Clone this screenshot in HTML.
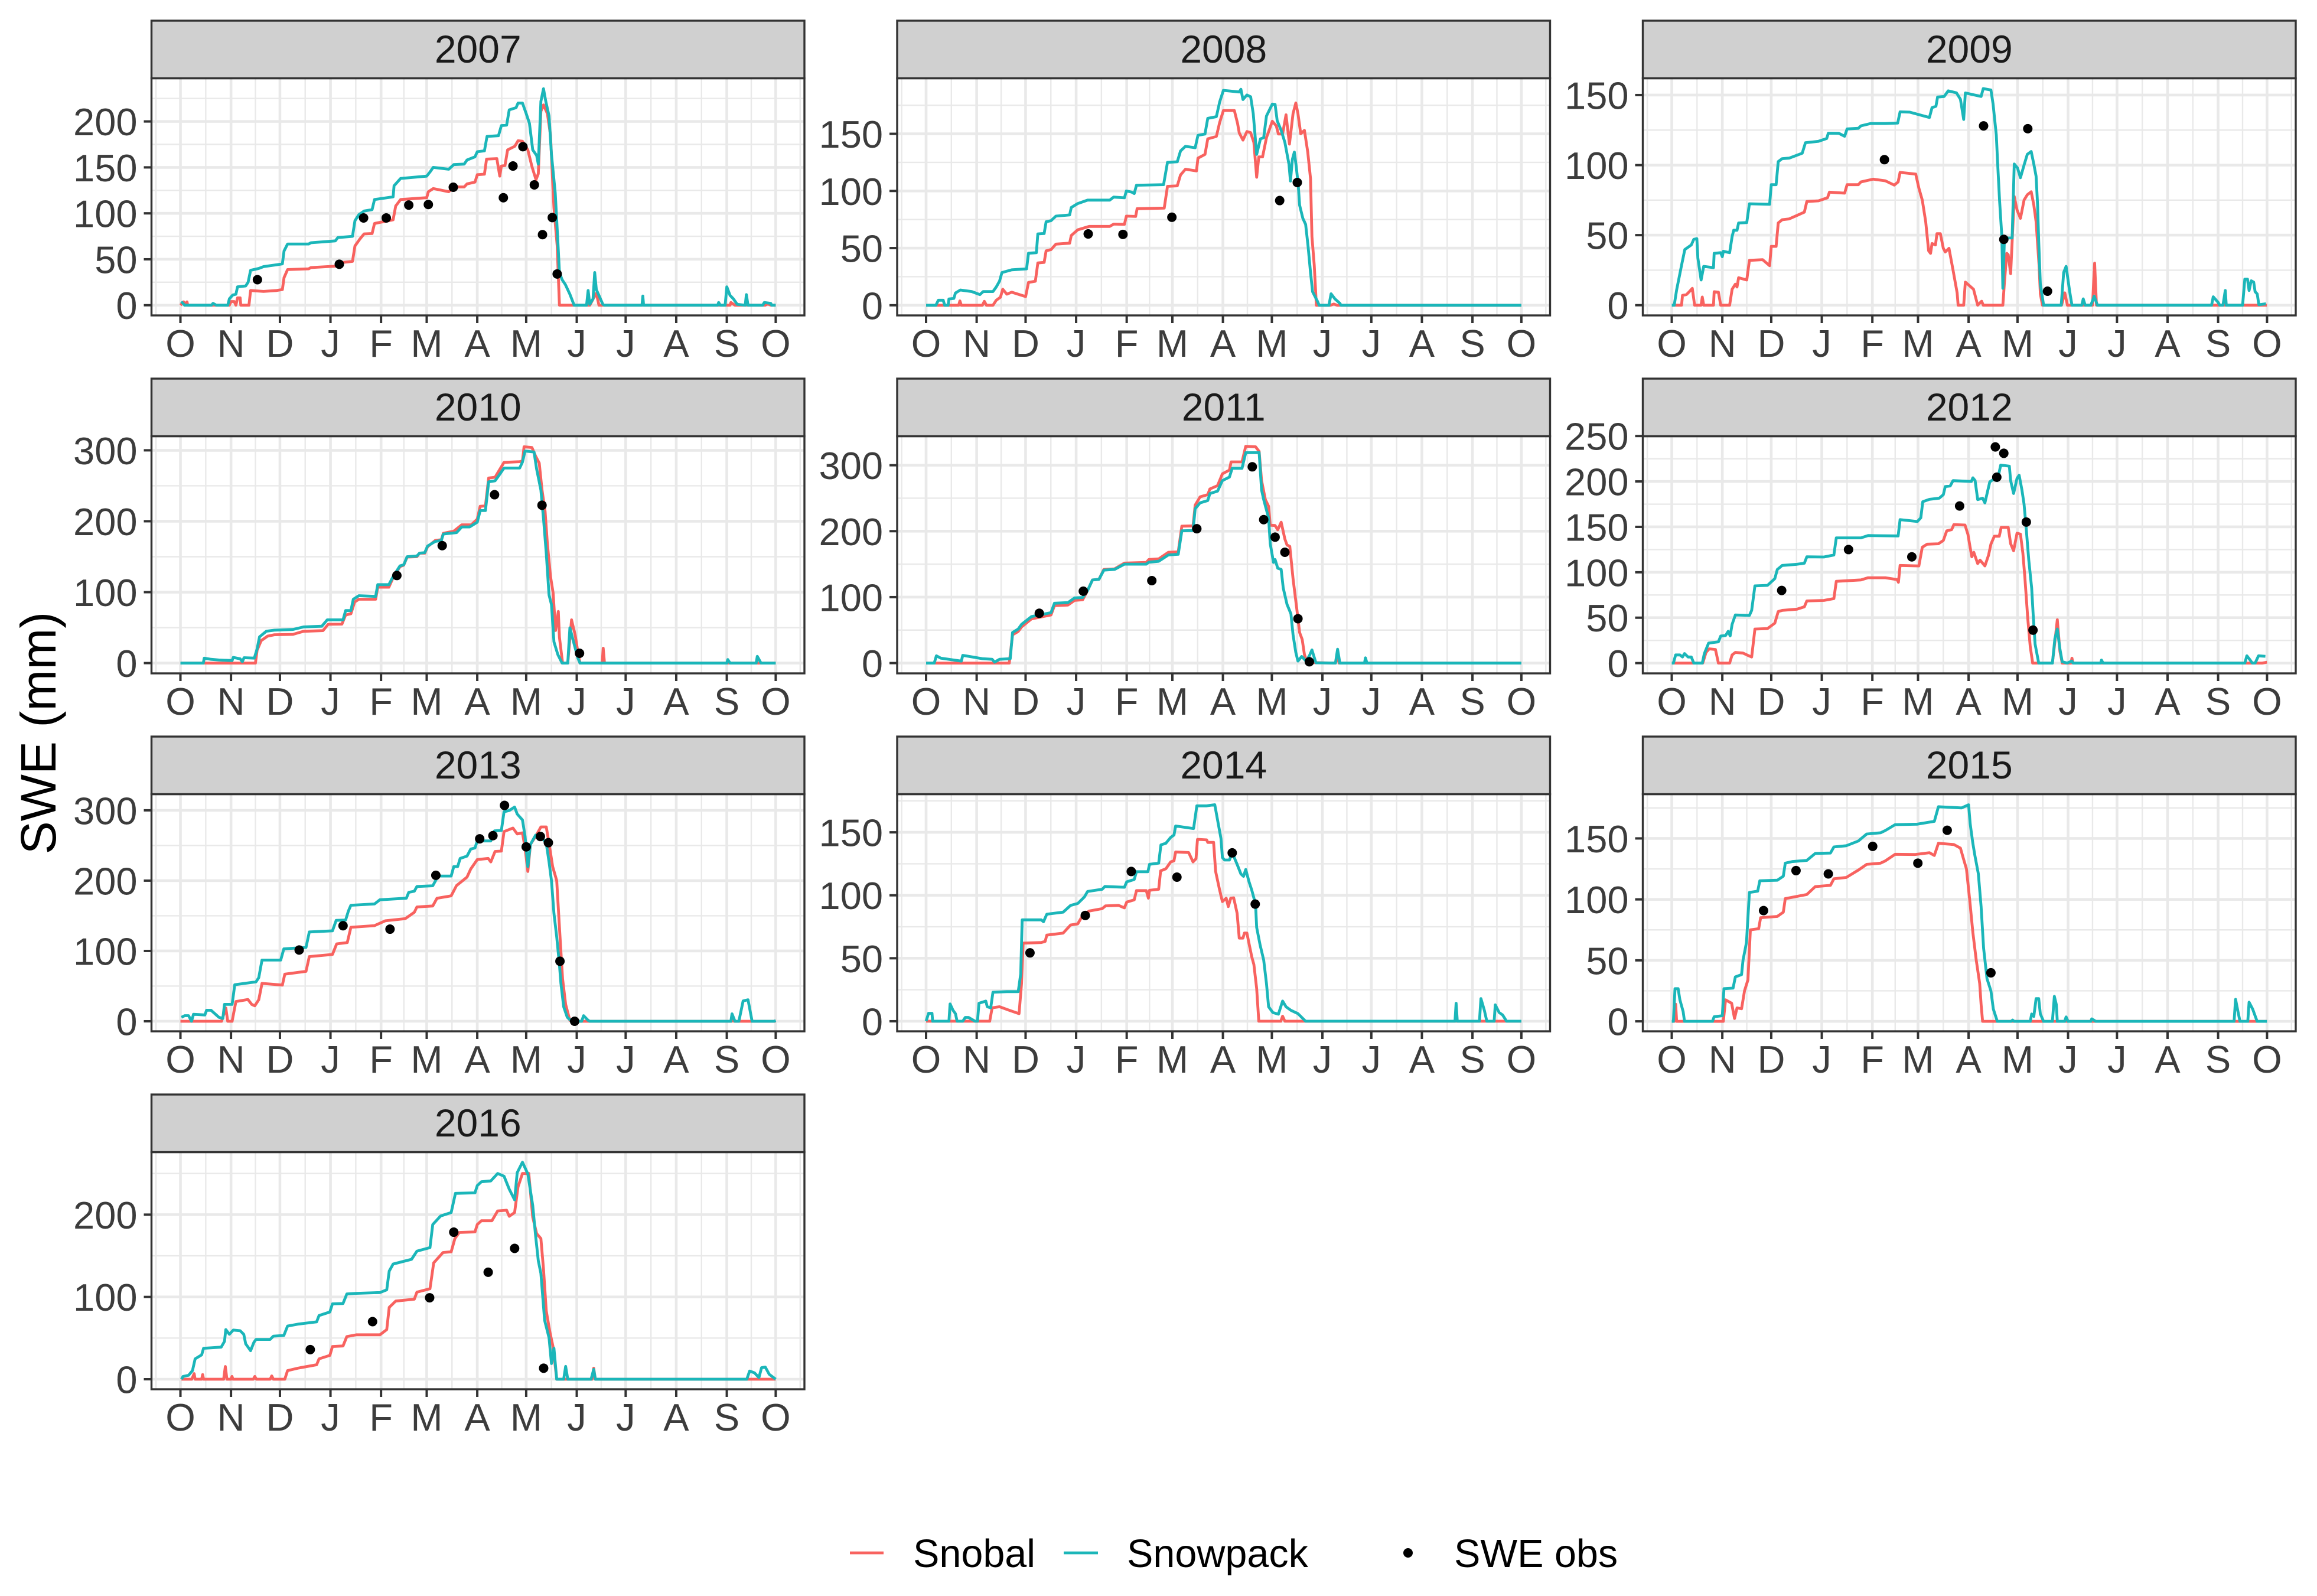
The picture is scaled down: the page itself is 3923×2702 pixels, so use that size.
<!DOCTYPE html>
<html lang="en">
<head>
<meta charset="utf-8">
<title>SWE by water year</title>
<style>
html,body{margin:0;padding:0;background:#fff;}
svg{display:block;font-family:"Liberation Sans",Arial,sans-serif;}
</style>
</head>
<body>
<svg id="chart" xmlns="http://www.w3.org/2000/svg" width="3923" height="2702" viewBox="0 0 3923 2702">
<rect x="0" y="0" width="3923" height="2702" fill="#ffffff"/>
<text transform="translate(94,1241) rotate(-90)" text-anchor="middle" font-size="84" fill="#000">SWE (mm)</text>
<g>
<line x1="1439" x2="1496" y1="2629" y2="2629" stroke="#f8625f" stroke-width="4.8"/>
<text x="1546" y="2653" font-size="66.5" fill="#000">Snobal</text>
<line x1="1801" x2="1859" y1="2629" y2="2629" stroke="#1bb6b9" stroke-width="4.8"/>
<text x="1908" y="2653" font-size="66.5" fill="#000">Snowpack</text>
<circle cx="2384" cy="2629" r="8" fill="#000"/>
<text x="2462" y="2653" font-size="66.5" fill="#000">SWE obs</text>
</g>
</svg>
<script>
// Months on the x axis: labels and day of water year
const monthLabels = ["O","N","D","J","F","M","A","M","J","J","A","S","O"];
const monthDays = [0,31,61,92,123,151,182,212,243,273,304,335,365];
const xRange = [-17.75,382.6];
const years = [2007,2008,2009,2010,2011,2012,2013,2014,2015,2016];

// y axis ranges and tick labels per year
const yRange2007=[-11.1,247], yRange2008=[-8.9,198.6], yRange2009=[-7.3,162], yRange2010=[-14.5,319.9], yRange2011=[-15.6,344];
const yRange2012=[-11.3,249.8], yRange2013=[-14.3,323], yRange2014=[-8,180.3], yRange2015=[-8.2,186.3], yRange2016=[-12.2,276];
const yTicks2007=[0,50,100,150,200], yTicks2008=[0,50,100,150], yTicks2009=[0,50,100,150], yTicks2010=[0,100,200,300], yTicks2011=[0,100,200,300];
const yTicks2012=[0,50,100,150,200,250], yTicks2013=[0,100,200,300], yTicks2014=[0,50,100,150], yTicks2015=[0,50,100,150], yTicks2016=[0,100,200];

// Series: [day of water year, SWE mm]
const snobal2007=[[0,0],[2,3.7],[2.6,0],[4,3.7],[4.5,0],[20,0],[20.4,1.5],[21,0],[30,0],[31,4],[33,4],[34,0],[35,8],[36.6,8],[37,0],[42,0],[43,16],[51,15],[59,16],[62.5,17],[63.5,30],[65.7,38.8],[78.6,39.6],[80,41],[95,42.5],[96.5,46],[105.5,47.7],[107,64.5],[110,72],[112.6,77.6],[117.5,78],[119,89],[130.4,93],[132,108],[135,115],[151,117],[152,123.5],[155,127],[164.5,123.5],[167.6,128.7],[174,128.7],[175.7,132],[180.6,134],[182,142],[186.4,142.6],[187.7,159],[194,159.6],[195.8,140.5],[196.8,151.5],[199,152],[200.6,169],[205,173],[207,179],[209.7,178.5],[213,169],[215.5,151],[218,136.6],[219.4,143],[221,211],[222.6,218],[225,208.6],[226.9,185],[228,143],[229,106],[231,64.5],[232.4,0],[251,0],[253.4,8],[255,13],[256.6,0],[337,0],[337.5,3],[340,0],[358.6,0],[360,1.5],[362,0],[365,0]];
const snowpack2007=[[0.5,4],[2.6,0],[19,0],[20,2],[22,0],[29,0],[30,7],[32,11],[34,12],[35,20],[40,21],[41.5,25],[43,38],[48,40],[51,42],[59,44],[62.5,45],[63.5,59],[65.7,66.6],[78.6,66.6],[80,68],[95,70],[96.5,73.6],[105.5,75],[107,92],[109.4,98.5],[112.6,102.5],[117.5,104],[119,115],[130.4,118],[131,130],[135,138],[151,140.5],[153,145],[155,150],[164.5,148],[167.6,153],[174,153.6],[175.7,158],[180.6,161.5],[182,167],[186.4,168],[188,183.7],[195,184.5],[196.8,195.5],[200,196],[201.6,212.6],[205.8,215],[207,220],[209.7,220],[212,208.6],[214,198],[216,169],[218.4,163],[219.4,153.6],[221,221.8],[222.6,235.6],[224,221.8],[226,206],[227.5,164],[229.8,122],[231.4,69.7],[232.4,35.6],[234,27.8],[236,22.5],[238.8,12],[241.4,0],[249,0],[250,16],[251,1],[253,7],[254,35.6],[255,17],[256.6,10.7],[259,1],[260,0],[283,0],[283.5,10],[284,0],[329.4,0],[330,3],[331,0],[334,0],[335,20],[337,10.7],[339,7],[341.4,1],[346.3,0],[347,11.5],[348,0],[357,0],[358,3],[362,2],[362.5,0],[365,0]];
const obs2007=[[47.2,27.8],[97.4,44.6],[112.3,95],[126.2,95],[140,109],[152,109.6],[167.3,128.4],[198,117],[203.9,151.5],[210,172.5],[217,131],[222,76.8],[228,95.4],[231,34]];

const snobal2008=[[0,0],[20,0],[20.7,3.8],[21.6,0],[34.5,0],[35.7,3.4],[37,0],[41,0],[43,4.4],[45.6,7],[47,14],[49.5,9.7],[52.5,11.4],[61,7.6],[62.8,20],[67,21],[68.5,37],[72.4,37.5],[73.6,47.6],[76.6,48.7],[79.6,53.5],[88,54.3],[89,61],[93,66],[100,69],[112.6,69],[115,71],[121.6,70.8],[122.8,78],[128.5,77.7],[129.4,84.5],[146,85],[148,104],[154,104.5],[156,114],[159,119],[165.8,117.5],[166.7,128.7],[171,132],[172.7,145.6],[178,147.7],[180,160],[182.3,170.4],[189,170.4],[191,159],[192,150.8],[194.3,144.5],[196.7,152],[199,151],[201,142.4],[202.7,112],[204,129.8],[206.3,129.8],[208.7,146.6],[212.3,161],[214.7,157],[216,149.8],[218.6,149.8],[220.7,166.6],[222.8,141],[225,167.7],[226.7,177],[228,167.7],[229.7,150],[232,153],[234,134],[235.7,110.8],[236.6,60],[238,35],[239.3,0],[248,0],[250,1],[252,0],[365,0]];
const snowpack2008=[[0,0],[6,0],[7.5,4.4],[10.5,4.4],[11.4,0],[13.5,0],[14,5.5],[17,6],[18,10.7],[21,13.3],[28,12],[33,9.3],[35,12],[41,12],[43,16],[45,21],[46.5,28.6],[52.5,31],[61.6,31.8],[62.8,45.5],[67.6,46],[68.5,62.4],[72.4,62.8],[73.6,73],[76.6,74],[79.6,78],[88,79],[89,85.5],[93,89],[99,92],[112.6,92],[115,94.6],[121.6,94],[122.8,100],[126,99],[127.6,97.7],[129,105],[145.6,105.5],[148,125],[154,125.5],[156,135],[159,139],[165,137.8],[166.7,148.7],[171,149.8],[172.7,163.5],[178,165],[180,178],[182.3,188],[192,186.6],[193,189],[194.3,180],[196.7,184],[199,182.4],[200.6,167.7],[202.7,132],[205,145.6],[207,146.6],[208.7,165.6],[212.3,176],[214,175.7],[215.3,161.4],[217.7,153],[220,142.4],[222.5,123.4],[223.4,108.7],[224.6,127.7],[225.8,134],[227,121],[228.2,104.5],[229,87.6],[231,76],[232.7,70.8],[234.2,51.8],[235.7,28.6],[237,11.8],[240,3.4],[241,0],[247,0],[248.3,10],[250.7,5.5],[253.7,1.7],[254.4,0],[365,0]];
const obs2008=[[99.4,62.4],[120.7,62],[150.7,77],[216.8,91.6],[227.6,107.4]];

const snobal2009=[[0,0],[6,0],[6.6,7],[9,7.6],[10.5,9.3],[12.6,12],[14,0],[18,0],[18.7,5.8],[19.6,0],[25.6,0],[26,9.6],[28.6,9.3],[30,0],[35.5,0],[37,11.4],[39,15],[40,13],[41,19.6],[46,18],[47.6,32],[55.7,32.5],[60,28.2],[61,42],[64,42],[65.3,58.7],[67.7,61],[72,61.6],[81.3,66.4],[82.8,74],[90,74.5],[95.5,76.7],[96.7,80.7],[106,80],[107.5,86],[114.4,86],[116,88],[123.5,90],[131,88.8],[136.4,85.7],[138.8,88],[140,94.8],[149.6,93.6],[151.5,83.6],[153.6,75],[155.7,59.5],[157.5,38.9],[158.7,37],[159.6,44],[161.7,43],[162.6,51],[164.7,51],[166.5,40.6],[167.7,38],[170,40.6],[172.5,25],[175,8.8],[175.6,0],[179,0],[180,16.5],[185,11.4],[187.6,0],[190,2.8],[191,0],[203,0],[204,16.5],[205.4,37],[206.3,36],[207.8,22.5],[210,77.6],[211.7,68],[213.8,62],[216,75],[218,78.8],[220.4,81],[222,71.6],[223.4,59.5],[225.2,28.6],[226,8],[227.3,0],[239,0],[241,8.8],[242.6,0],[258,0],[259.3,30],[260.4,0],[365,0]];
const snowpack2009=[[0,0],[1.5,0],[3,11],[4.5,19.6],[6,28.5],[8,39.7],[12,43],[13.5,47],[15.4,47.5],[16,33.7],[18,18],[19.6,27.7],[25.6,26.8],[26,37],[30,37.5],[31,34.6],[31.6,38.5],[35.5,37.5],[37,49],[38,53.5],[40,53.5],[41,58.7],[46,59],[47.6,72.4],[60,72],[61,86],[64,86],[65.3,102.5],[67.7,104.6],[72,105],[80,108.5],[82,116],[90,117],[95,119],[96,122.8],[102.4,122.7],[106,120.6],[107.5,125.8],[114.4,126.3],[116,128],[122,129.7],[131,129.7],[138.5,130],[140,138],[146,137.8],[158,134],[159.6,141],[162,142],[163,148.6],[167,149],[169.5,153],[174.6,151.6],[177,147],[179,132.6],[180,151.5],[189.7,149],[191,154.6],[195.7,153.6],[197,143.8],[199,121.5],[200,97],[201,75],[202.4,49],[203,12],[204,48],[208.7,48],[210,100.8],[212,98],[213.8,91],[216,100],[218,107.7],[220.4,109.7],[222,100.8],[223.4,92],[224.3,71.6],[225,45.8],[226,15],[228,0],[238.8,0],[240.3,23.4],[241.8,27.7],[244,9.6],[245.4,0],[251.4,0],[252.3,4.5],[253.5,0],[257,0],[259,6.5],[261,0],[331,0],[332,6],[335,2],[336,0],[338,0],[339.4,10.5],[340,0],[350,0],[351.4,18.6],[353,18.6],[354,10.5],[355.3,17.4],[356.8,16.5],[357.7,9.6],[359,8],[360,0.3],[364.3,1]];
const obs2009=[[130.4,103.9],[191.2,128],[218.3,126],[203.6,47],[230.4,10]];

const snobal2010=[[0,0],[46,0],[47,18],[49.5,31.6],[53.4,38],[57.6,40],[69,40.5],[75.4,44.8],[87.4,45.8],[90.6,54.7],[99,55],[101.3,67.8],[104.5,69.5],[106.8,86],[109.4,90],[119.7,90],[121,107],[127.8,107],[130.4,120.5],[134.6,136],[136.9,138],[139,149.5],[145,150],[146.6,155],[149.8,155],[151.5,164],[156.3,173],[160,174],[161.2,183],[167.6,186],[172.5,195],[178.3,195],[182,203],[183.8,221],[187,221.6],[189,261],[192.9,262],[195,270],[198.4,283],[208,284],[209.7,285],[210.7,305],[215.5,304],[217.8,291.7],[220,282],[221.7,244],[223.6,214],[225,168],[226.9,122],[228.5,99],[230,46],[231.7,72.8],[232.4,36.5],[234.3,0],[237.5,0],[239.8,61],[242,39.8],[243.7,15],[245,0],[258.6,0],[259.2,21],[260,0],[365,0]];
const snowpack2010=[[0,0],[14,0],[14.6,7],[18.8,5.3],[23.6,4.3],[31.7,3.6],[32.4,8],[36.6,6],[38,2],[39,7.6],[45.3,7],[47,20],[48.5,37],[52.7,45],[57.6,46.4],[69,47.4],[75.4,51],[86.7,52],[90,61],[99.7,61],[101.3,74],[104.5,74],[106,90],[109.4,95],[119.7,94],[121,110.6],[127.8,110.6],[130.4,122],[134.6,137],[136.9,138.6],[139,150],[145,151],[146.6,155],[149.8,155.7],[151.5,165],[156.3,171.6],[160,173],[161.2,182],[169.3,184],[172.5,192],[177.3,192],[182,198.6],[183.8,215],[187,215],[189,255.5],[192.9,257],[195,263.7],[198.4,275],[208,275],[209.7,283.5],[211.3,299],[216.8,297.6],[218.4,273.6],[221,244],[222.7,201],[224.3,155],[226,96],[227.5,82.6],[229,30],[231.4,12],[234,0],[237.5,0],[238.8,49.7],[241.4,26.7],[243.7,7],[245,0],[335,0],[335.6,5],[337,0],[353,0],[353.7,9.5],[356,0],[365,0]];
const obs2010=[[132.7,123.5],[160.5,165.6],[192.6,237.4],[221.7,222.6],[244.7,13.8]];

const snobal2011=[[0,0],[51,0],[53,42.9],[56.5,48],[58.6,55],[64.6,67],[76.6,73],[78.7,87],[87,88],[91,95],[96,96],[99,110],[102,126],[106,127],[109,142],[115.6,142.8],[121.6,151.6],[135,152.7],[136.6,157],[142.6,158],[148.6,168],[154.6,168.6],[156.8,207.6],[163.7,208],[165,239.5],[168,252],[172.7,255.4],[174,264],[178.7,269],[181.7,287],[186,292.6],[187,305],[193.7,305],[196,328.7],[202,328],[204.2,321],[205.7,276.7],[208,248],[210,237.7],[211,209],[214,208.6],[215.6,202],[217.7,213.6],[220,188],[221.3,179],[223,177],[225,128],[227.3,81.8],[229,46.4],[230.6,35.8],[232,12.8],[233.6,1],[251,0],[252.3,11],[253.2,0],[365,0]];
const snowpack2011=[[0,0],[5,0],[6.3,11],[9,7.4],[21.6,3],[22.5,11.7],[31.5,8],[34.5,6.7],[40.5,5.7],[42,1.4],[45,5.7],[51.6,6.7],[53,46.4],[56.5,51.7],[58.6,58.8],[64.6,70.5],[76.6,76.5],[78.7,90.7],[87,91.7],[91,98.8],[96,99.5],[99,110],[102,126],[106,127],[109,141],[115.6,142],[121.6,150],[135,150],[136.6,153],[142.6,154.4],[148.6,164],[154.6,165],[156.8,200.5],[163.7,201],[165,234],[168,243],[172.7,246.5],[174,257],[178.7,260.7],[181.7,276.7],[186,282],[187.7,295.4],[193.7,295.4],[196,319],[204.2,319],[205.7,262.5],[207,248],[210,220],[211,181],[213,152.7],[214,157],[215.6,143.8],[217.7,142],[219,113.7],[221.3,89],[223.7,74.7],[225,43],[226.7,16],[228,3],[230.3,10],[233,3],[235,11],[236.6,20],[239,0.4],[251,0],[252.3,21],[253.7,0],[268.8,0],[269.4,8],[270.3,0],[365,0]];
const obs2011=[[69.4,75.5],[96.4,109],[138.4,125],[166,203.7],[200,297.6],[207,217.5],[214,191],[220,168],[228,67.3],[235,2]];

const snobal2012=[[0,0],[19,0],[21,11.8],[23,15.7],[26.8,15],[28.6,0],[35.5,0],[37,9],[39,11.8],[43.7,11],[47.3,8],[49,6.7],[51,37.5],[58.7,38],[63.2,44],[65.3,56.8],[67.7,58],[76.8,59.4],[81.3,62],[82.8,68.4],[93.3,69],[99.4,71],[100.9,90],[116,91.6],[120.4,94],[131,94],[138.2,92],[139,89],[140,107.5],[151.5,107],[153.6,127.6],[156.6,130.9],[163.5,131.4],[166.5,135],[168.6,145.6],[171.6,146.9],[173,152.5],[179.8,152],[181.6,141.7],[182.8,128.9],[184,117],[185.2,122],[187.6,109.6],[189,113.4],[192,107],[194.2,118.6],[195.7,131],[197.8,139.7],[200.8,139.7],[202,149.4],[206.3,149.4],[207.8,131.4],[209.6,123.7],[211.7,143],[213.8,142],[215.3,121],[216.5,95],[218.3,49],[219.8,18],[221.3,0],[233.4,0],[234.9,23.4],[236.4,47.8],[238,13],[239.4,0],[244.8,0],[245.4,5.4],[246,0],[362,0],[365,1]];
const snowpack2012=[[0,0],[1,0],[2.4,9],[5,9],[6.6,6.7],[7.8,10.5],[10,6.7],[12,6.7],[13.5,0],[18.7,0],[20,10.5],[22.6,22],[28.6,23.4],[30,29.8],[33,30.3],[34.6,35],[35.8,30],[37,42.7],[39,53],[47.6,52.5],[49,58],[51,85],[58.7,85.6],[63.2,93],[64.7,103],[67.7,107.5],[76.8,108.8],[81.3,110],[82.8,117],[93.3,116.8],[99.4,119],[100.9,137.9],[116,137.9],[120.4,140.4],[138.8,140],[140,158],[150.6,155.9],[152.7,160],[153.9,177.7],[158,180.3],[164,181.6],[166.5,185.4],[167.7,194.4],[170.7,195],[172.5,200.9],[183.7,200],[184.6,204],[186,201],[187.6,180],[190.6,181.6],[192,176.4],[195,199.6],[197,202],[199.6,200.9],[201.7,218],[207,216.8],[207.8,200.9],[209.6,186.7],[211.7,203.4],[213,206.8],[214.7,190.6],[216,175],[217.4,146.9],[218.9,113.4],[220.7,82.6],[221.6,54],[222.8,20.8],[225,0],[233.4,0],[234.9,27],[236.4,37.5],[238,15.7],[239.4,1.5],[242.4,0],[245.4,2.3],[246,0],[263,0],[263.5,3.3],[264.5,0],[351.4,0],[352.6,8],[354.4,4],[356,0],[357.7,0],[359.8,8],[364,7.5]];
const obs2012=[[67.4,80],[108.4,125],[147.2,117],[176.5,173],[198.4,238],[203.6,231],[199.3,204.7],[217.4,155.3],[221.5,36.3]];

const snobal2013=[[0,0],[25.2,0],[27.8,19],[29,0],[31.7,0],[34,28],[41.4,31],[43.7,24],[45.6,22],[48,30.6],[50,53.8],[62.5,51.5],[64,67],[77,71],[79,92],[93.2,95],[95.8,110],[102.3,112],[104.5,133.6],[119,136],[125.6,142.9],[137.9,146],[143.4,155],[145,162.5],[154.7,164],[157.3,175],[166,178.4],[169.3,193],[175.7,205],[178,216.6],[182,230],[188.7,231.6],[190.3,226.6],[192.9,241.5],[196.8,242],[198.4,269.8],[203.9,274.8],[206.5,266.4],[209.7,268],[211.3,246.5],[213,213],[214.6,251.5],[217.8,263],[221,276.4],[224.3,276.4],[226,253],[228.2,220],[230.7,200],[232.4,133.6],[234.3,60.5],[236.2,24],[238.8,1],[240,0],[338,0],[338.5,2],[339.5,0],[365,0]];
const snowpack2013=[[0.6,5.6],[2.6,8],[5,8],[6.8,0],[8,10],[15,9],[16,15.6],[18.8,15.6],[23.6,5.6],[26,4],[27,24],[31.7,24],[33.3,52],[46.3,56],[48,62],[50,87],[61.5,87],[63.4,103],[77,105],[79,127],[93.2,128.6],[95.5,143.5],[101.3,144],[103,156.8],[104.5,165],[119,166.8],[122.3,172.8],[138.5,175],[140,183.4],[143.4,185],[145,191.7],[154.7,192.7],[158,206.6],[166,206.6],[167.6,220],[170,220],[171.5,231.6],[175.7,234.9],[178,244.9],[180.6,246.5],[182,256.5],[190.3,256.5],[192.6,270.8],[196.8,271.4],[198.4,298],[201.6,299.7],[204.9,304.7],[206.5,294.7],[209.7,286.4],[211.3,263],[213,220],[214.6,251.5],[217.8,264.8],[221,263],[224.3,253],[226,226.6],[227.5,200],[229,153.5],[230.7,120],[232.4,80.4],[233.3,53.8],[235,20.6],[237.2,5.6],[239.8,0],[246,0],[247.2,8],[250,1.3],[251,0],[337.5,0],[338.2,10.6],[340,0],[342.4,0],[345,28.9],[348,30.6],[350.5,0],[364,0],[365,1]];
const obs2013=[[72.8,101.3],[99.7,135.9],[128.5,131],[156.6,207.6],[183.5,259.5],[191.6,264],[198.7,307],[212,248],[220.7,262.8],[225.6,254],[232.7,85.4],[241.7,0]];

const snobal2014=[[0,0],[39,0],[40.5,10.6],[45,11.5],[51,8.7],[57,6],[58.5,30],[59.5,62],[70.6,62.5],[73,63.4],[74,68.4],[84,70],[88.6,76.4],[93,77.3],[96,84],[100,87.5],[108,89.4],[110,91.6],[118,92],[121.6,90],[123,94.6],[127.6,96.4],[129,103.7],[135,103.7],[136.3,97.7],[137,104],[142.6,104.8],[143.8,119.4],[147,121],[150,126.5],[152,127.4],[153,134.4],[161,133.9],[163.7,126.5],[165.5,129],[166.4,144.4],[172,144],[172.7,142],[176.3,142],[177.5,119],[180,104],[181.7,95],[184,97.7],[185.3,91],[186.8,97.7],[188.6,98],[190.7,85.7],[192,66],[194.3,66],[195.2,70],[196.7,70],[198,61.6],[199.7,51],[201,45],[202.7,26],[204,0],[217.5,0],[218.6,4],[220,0],[365,0]];
const snowpack2014=[[0,0],[1.5,6.3],[3.6,6.3],[4,0],[14,0],[14.7,13.7],[16.5,8.7],[18,6],[19,0],[22.5,0],[24,3],[26,3],[30,0],[31.5,0],[32.4,14.3],[36.6,16],[37.5,11.5],[39.6,10.6],[41,23],[49.5,23.5],[56.5,23.5],[58,37.5],[58.9,80.5],[70.6,80.5],[72,79],[74,85],[84,86.6],[88.6,92],[93,93.5],[97,98.6],[99,103],[108,104.8],[109.6,107],[121.6,106.4],[123,110.7],[127.6,112.6],[129,118.7],[136,118.7],[137,124.6],[142.6,125.5],[144,140],[147,141.3],[150,146],[152,147.8],[153,155],[164,153],[166,171],[172,171],[177,171.9],[178.7,159.8],[180.8,145],[181.7,130],[183,128],[186,128],[187.7,133.9],[190.7,124.6],[193,117],[194.6,115],[196,120.5],[198,110.7],[199.7,104],[202,93],[202.7,74.5],[204.8,60.6],[207,48.6],[208.7,30],[210,11.5],[212.6,6.9],[216,5.6],[218.6,16],[220.7,11.5],[223.7,8.7],[228,6],[232.7,0],[324.3,0],[325,14.3],[325.7,0],[339.3,0],[340.2,18],[342.3,8.7],[343.8,0],[348.3,0],[349,13],[351.4,6.9],[353.5,5],[355.9,0],[365,0]];
const obs2014=[[63.7,54.3],[97.6,84],[125.8,118.9],[153.8,114.4],[187.7,133.7],[201.8,93]];

const snobal2015=[[0,0],[1.5,0],[2.4,14],[3,0],[31.6,0],[33,17.6],[36.7,14.8],[38.5,2.3],[40,11],[42.8,10.3],[44.6,25],[46.7,34],[48.2,75],[53.3,76],[54.5,85],[64.7,86],[68.4,89.5],[69.6,100.6],[82.8,104],[88,110.5],[97.3,111.5],[99.4,116.9],[107,118],[114.4,124],[119.5,128.7],[128,129.7],[131,131.6],[137,137],[149,136.8],[158,138.3],[161,136],[163.5,146],[173,145],[177,142],[178.6,134.5],[180.7,124.9],[182.8,98],[184.6,73],[186.7,50],[188.8,31],[189.7,13.8],[190.6,0],[365,0]];
const snowpack2015=[[0,0],[1,0],[2,26.8],[3.9,26.8],[5,17.6],[7,8],[7.8,0],[25,0],[26,3.8],[31,4.6],[32,26.8],[37.6,27.2],[39,36.4],[42.8,38.3],[43.7,50.2],[45.8,64.6],[47.6,105.7],[52.7,106.7],[54,115.3],[64.7,115.7],[68.4,119],[69.6,129.7],[73.8,131],[82.8,132],[88,137.7],[97.3,138],[99.4,143],[107,144],[114.4,147.9],[119.5,153.6],[128,154.6],[131,156.5],[137,161.3],[150.6,161.7],[161,164],[163.5,176],[177.7,175],[182,177.6],[183,162],[184.6,146],[185.8,136.4],[188,121],[189.7,94],[191.2,60],[193.3,34.9],[195.7,25],[197.2,10],[199.6,0],[208,0],[209,1],[210,0],[219.8,0],[220.7,6],[222,4],[223.4,18.6],[225,18.6],[226,6],[228,0],[233.4,0],[234.6,20.5],[235.8,13.8],[236.4,0],[240.9,0],[241.8,3.6],[243,0],[256.9,0],[257.5,2],[260,0],[344.8,0],[345.7,18],[347.2,8],[348.4,0],[353.2,0],[354,15.7],[356.2,10],[358.9,0],[365,0]];
const obs2015=[[56.3,90.8],[76.2,123.6],[96,120.9],[123.2,143.5],[150.9,129.7],[168.9,156.7],[195.7,39.8]];

const snobal2016=[[0.6,0],[7,0],[8.4,6.8],[9,0],[13,0],[13.6,5.7],[14.2,0],[26.5,0],[27.5,15.4],[28.5,0],[31,0],[31.6,3.4],[32.2,0],[44.7,0],[45.6,3.4],[46.6,0],[55,0],[56,4],[57,0],[64,0],[65.7,10.5],[72,13.4],[83.5,17.6],[85,24.8],[91.6,29],[93.2,39.8],[99.7,40.4],[102,51.8],[107.8,54],[122.3,54],[126.5,60.3],[128,87.3],[132,95],[143.4,97.3],[145,105.8],[153,110],[155.3,141.4],[161,154],[166,154.8],[168.3,171],[171,178.4],[180.6,179],[182,188],[184.5,192.6],[191,192.6],[194.5,204.5],[200,205.4],[201.6,198],[204.9,202.6],[207,233.9],[209.7,250],[213.6,250],[216,196.9],[218.4,177],[221,171],[222.6,134],[224.3,83],[226.5,57.5],[228.5,39],[230.7,0],[252.4,0],[253.4,13.4],[254.4,0],[365,0]];
const snowpack2016=[[0.6,0],[1.6,3.4],[5,4.8],[7.4,10.5],[9,24.8],[13,29.6],[14.2,37.6],[25,39],[27,46],[27.8,60.3],[30,54.6],[32.4,59.7],[36.6,58.9],[38.8,54.6],[40,43],[43,34.7],[45,44.7],[46.3,48.4],[55,48.4],[57,52.3],[63.4,53.2],[65.7,64.6],[72,66.9],[83.5,69.7],[85,77.4],[91.6,81.7],[93.2,91.6],[99.7,92],[102,103.6],[107.8,104.4],[122.3,105.3],[126.5,108.7],[128,131.4],[130.4,140],[141.7,145.7],[145,155.6],[153,159.9],[154.7,188],[159.5,198.3],[166,202.6],[168.6,225.9],[180.6,226.5],[182,235.3],[184.5,240],[190.3,241],[194.5,250],[198.4,246.7],[201.6,231],[204.9,218],[206.5,251],[209.7,263.7],[213,249.5],[216,211],[217.8,174],[219.4,144],[221,128.6],[223.3,71.7],[226,50.4],[227.5,19],[229,37.6],[230.7,0],[235,0],[236.2,15.6],[237.5,0],[251.8,0],[253.4,12],[254.4,0],[347.3,0],[349,10],[352,7.7],[354.7,2],[356.3,14],[358.6,14.8],[361,6],[365,0]];
const obs2016=[[79.6,36],[117.8,70],[152.8,99],[167.6,178.7],[188.7,130],[204.9,159],[222.7,13.4]];

const yRanges={2007:yRange2007,2008:yRange2008,2009:yRange2009,2010:yRange2010,2011:yRange2011,2012:yRange2012,2013:yRange2013,2014:yRange2014,2015:yRange2015,2016:yRange2016};
const yTickSets={2007:yTicks2007,2008:yTicks2008,2009:yTicks2009,2010:yTicks2010,2011:yTicks2011,2012:yTicks2012,2013:yTicks2013,2014:yTicks2014,2015:yTicks2015,2016:yTicks2016};
const snobalSets={2007:snobal2007,2008:snobal2008,2009:snobal2009,2010:snobal2010,2011:snobal2011,2012:snobal2012,2013:snobal2013,2014:snobal2014,2015:snobal2015,2016:snobal2016};
const snowpackSets={2007:snowpack2007,2008:snowpack2008,2009:snowpack2009,2010:snowpack2010,2011:snowpack2011,2012:snowpack2012,2013:snowpack2013,2014:snowpack2014,2015:snowpack2015,2016:snowpack2016};
const obsSets={2007:obs2007,2008:obs2008,2009:obs2009,2010:obs2010,2011:obs2011,2012:obs2012,2013:obs2013,2014:obs2014,2015:obs2015,2016:obs2016};

const NS="http://www.w3.org/2000/svg";
const chart=document.getElementById("chart");
const colLefts=[256.5,1519,2781.5], rowStripTops=[35,641,1247,1853];
const PANEL_W=1105.5, STRIP_H=97.5, PANEL_H=401.5;
const RED="#f8625f", TEAL="#1bb6b9", GRID="#e9e9e9", EDGE="#333333", TICKTXT="#3c3c3c";

function make(tag,attrs,parent){
  const el=document.createElementNS(NS,tag);
  for(const k in attrs) el.setAttribute(k,attrs[k]);
  parent.appendChild(el);
  return el;
}

years.forEach(function(year,i){
  const left=colLefts[i%3], stripTop=rowStripTops[Math.floor(i/3)];
  const top=stripTop+STRIP_H, bottom=top+PANEL_H, right=left+PANEL_W;
  const yr=yRanges[year], ticks=yTickSets[year];
  const xs=function(d){return left+(d-xRange[0])/(xRange[1]-xRange[0])*PANEL_W;};
  const ys=function(v){return bottom-(v-yr[0])/(yr[1]-yr[0])*PANEL_H;};

  const g=make("g",{},chart);
  
  

  const bg=make("rect",{x:left,y:top,width:PANEL_W,height:PANEL_H,fill:"#fff"},g);
  
  

  // minor grid
  const step=ticks[1]-ticks[0];
  for(let v=ticks[0]+step/2;v<yr[1];v+=step){
    const l=make("line",{x1:left,x2:right,y1:ys(v),y2:ys(v),stroke:GRID,"stroke-width":2.4},g);
    
    
  }
  const minorDays=[-15];
  for(let m=0;m<monthDays.length-1;m++) minorDays.push((monthDays[m]+monthDays[m+1])/2);
  minorDays.push(380);
  minorDays.forEach(function(d){
    const l=make("line",{x1:xs(d),x2:xs(d),y1:top,y2:bottom,stroke:GRID,"stroke-width":2.4},g);
    
    
  });
  // major grid
  ticks.forEach(function(v){
    const l=make("line",{x1:left,x2:right,y1:ys(v),y2:ys(v),stroke:GRID,"stroke-width":4.6},g);
    
    
  });
  monthDays.forEach(function(d){
    const l=make("line",{x1:xs(d),x2:xs(d),y1:top,y2:bottom,stroke:GRID,"stroke-width":4.6},g);
    
    
  });

  // series
  const toPath=function(arr){return arr.map(function(p,j){return (j?"L":"M")+xs(p[0]).toFixed(1)+" "+ys(p[1]).toFixed(1);}).join("");};
  const red=make("path",{d:toPath(snobalSets[year]),fill:"none",stroke:RED,"stroke-width":4.8,"stroke-linejoin":"round"},g);
  
  
  const teal=make("path",{d:toPath(snowpackSets[year]),fill:"none",stroke:TEAL,"stroke-width":4.8,"stroke-linejoin":"round"},g);
  
  
  obsSets[year].forEach(function(p){
    const c=make("circle",{cx:xs(p[0]),cy:ys(p[1]),r:8,fill:"#000"},g);
    
    
  });

  // border + strip
  const border=make("rect",{x:left,y:top,width:PANEL_W,height:PANEL_H,fill:"none",stroke:EDGE,"stroke-width":3.4},g);
  
  
  const strip=make("rect",{x:left,y:stripTop,width:PANEL_W,height:STRIP_H,fill:"#d0d0d0",stroke:EDGE,"stroke-width":3.4},g);
  
  
  const st=make("text",{x:left+PANEL_W/2,y:stripTop+STRIP_H/2+22,"text-anchor":"middle","font-size":66,fill:"#1a1a1a"},g);
  st.textContent=String(year);
  
  

  // axes
  ticks.forEach(function(v){
    const t=make("line",{x1:left-13,x2:left,y1:ys(v),y2:ys(v),stroke:EDGE,"stroke-width":4},g);
    
    
    const lb=make("text",{x:left-24,y:ys(v)+23.5,"text-anchor":"end","font-size":65,fill:TICKTXT},g);
    lb.textContent=String(v);
    
    
  });
  monthDays.forEach(function(d,m){
    const t=make("line",{x1:xs(d),x2:xs(d),y1:bottom,y2:bottom+13,stroke:EDGE,"stroke-width":4},g);
    
    
    const lb=make("text",{x:xs(d),y:bottom+70,"text-anchor":"middle","font-size":65,fill:TICKTXT},g);
    lb.textContent=monthLabels[m];
    
    
  });
});
</script>
</body>
</html>
